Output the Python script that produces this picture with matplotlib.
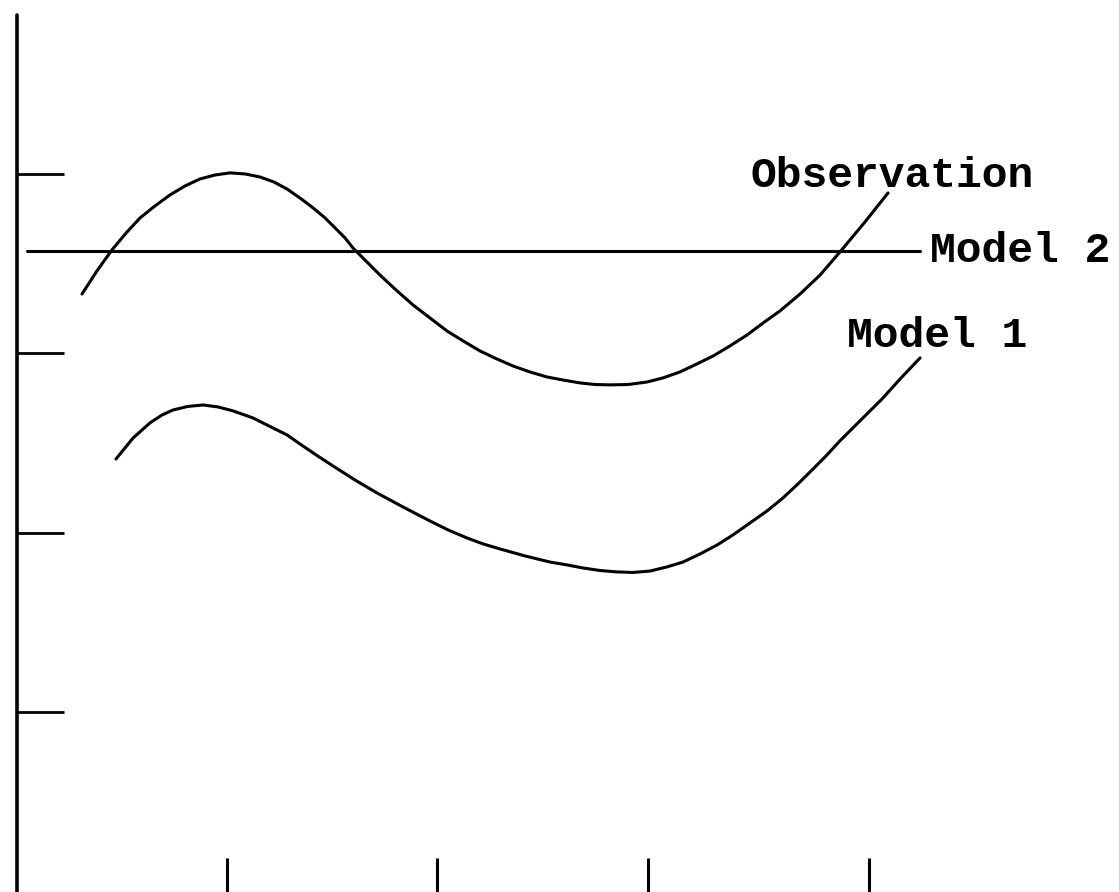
import matplotlib
matplotlib.use("Agg")
import matplotlib.pyplot as plt

# ---- data (arbitrary units) ----
obs_x = [0.308, 0.379, 0.450, 0.517, 0.583, 0.654, 0.725, 0.796, 0.867, 0.938,
         1.009, 1.081, 1.152, 1.218, 1.280, 1.341, 1.403, 1.460, 1.512, 1.555,
         1.592, 1.654, 1.720, 1.796, 1.877, 1.957, 2.038, 2.114, 2.194, 2.275,
         2.351, 2.431, 2.512, 2.588, 2.668, 2.739, 2.810, 2.896, 2.986, 3.062,
         3.142, 3.223, 3.299, 3.379, 3.460, 3.536, 3.616, 3.711, 3.806, 3.900,
         4.019, 4.128]
obs_y = [3.331, 3.460, 3.577, 3.671, 3.755, 3.822, 3.883, 3.933, 3.972, 3.994,
         4.006, 4.000, 3.983, 3.955, 3.916, 3.866, 3.811, 3.755, 3.694, 3.643,
         3.588, 3.515, 3.437, 3.354, 3.270, 3.198, 3.125, 3.070, 3.014, 2.969,
         2.930, 2.897, 2.869, 2.852, 2.836, 2.827, 2.825, 2.827, 2.841, 2.864,
         2.897, 2.942, 2.986, 3.042, 3.103, 3.170, 3.237, 3.331, 3.437, 3.565,
         3.733, 3.894]

m1_x = [0.469, 0.550, 0.630, 0.687, 0.739, 0.810, 0.882, 0.953, 1.024, 1.118,
        1.213, 1.280, 1.341, 1.417, 1.498, 1.602, 1.706, 1.829, 1.957, 2.043,
        2.133, 2.209, 2.289, 2.408, 2.526, 2.607, 2.682, 2.763, 2.844, 2.919,
        3.000, 3.081, 3.156, 3.237, 3.318, 3.393, 3.474, 3.555, 3.630, 3.701,
        3.768, 3.834, 3.900, 4.000, 4.100, 4.190, 4.280]
m1_y = [2.412, 2.529, 2.613, 2.657, 2.685, 2.705, 2.713, 2.702, 2.680, 2.641,
        2.585, 2.546, 2.496, 2.435, 2.373, 2.295, 2.223, 2.145, 2.067, 2.017,
        1.972, 1.939, 1.911, 1.872, 1.838, 1.822, 1.805, 1.791, 1.783, 1.780,
        1.788, 1.811, 1.838, 1.883, 1.933, 1.989, 2.056, 2.123, 2.195, 2.273,
        2.351, 2.429, 2.513, 2.630, 2.747, 2.864, 2.975]

m2_x = [0.047, 4.280]
m2_y = [3.571, 3.571]

x_ticks = [0.995, 1.99, 2.99, 4.04]
y_ticks = [1, 2, 3, 4]
labels = ["Observation", "Model 2", "Model 1"]

# ---- figure ----
fig = plt.figure(figsize=(11.19, 8.92), dpi=100)
ax = fig.add_axes([0, 0, 1, 1])
ax.set_xlim(-0.0806, 5.2227)
ax.set_ylim(0, 4.969)

lw = 2.2
style = dict(color="black", lw=lw, solid_capstyle="round", solid_joinstyle="round")
ax.plot(obs_x, obs_y, **style)
ax.plot(m1_x, m1_y, **style)
ax.plot(m2_x, m2_y, **style)

# axes / ticks
for s in ["top", "right", "bottom"]:
    ax.spines[s].set_visible(False)
ax.spines["left"].set_position(("data", 0))
ax.spines["left"].set_bounds(0, 4.886)
ax.spines["left"].set_linewidth(2.6)
ax.spines["left"].set_capstyle("round")
ax.set_yticks(y_ticks)
ax.set_xticks(x_ticks)
ax.tick_params(axis="y", direction="in", length=34, width=2.0, labelleft=False)
ax.tick_params(axis="x", direction="in", length=24.5, width=2.2, labelbottom=False)

font = dict(family=["Liberation Mono", "DejaVu Sans Mono"], fontsize=31,
            fontweight="bold", color="black")
ax.text(3.474, 3.928, labels[0], ha="left", va="baseline", **font)
ax.text(4.327, 3.571, labels[1], ha="left", va="center", **font)
ax.text(3.934, 3.036, labels[2], ha="left", va="baseline", **font)

fig.savefig("out.png", dpi=100)
